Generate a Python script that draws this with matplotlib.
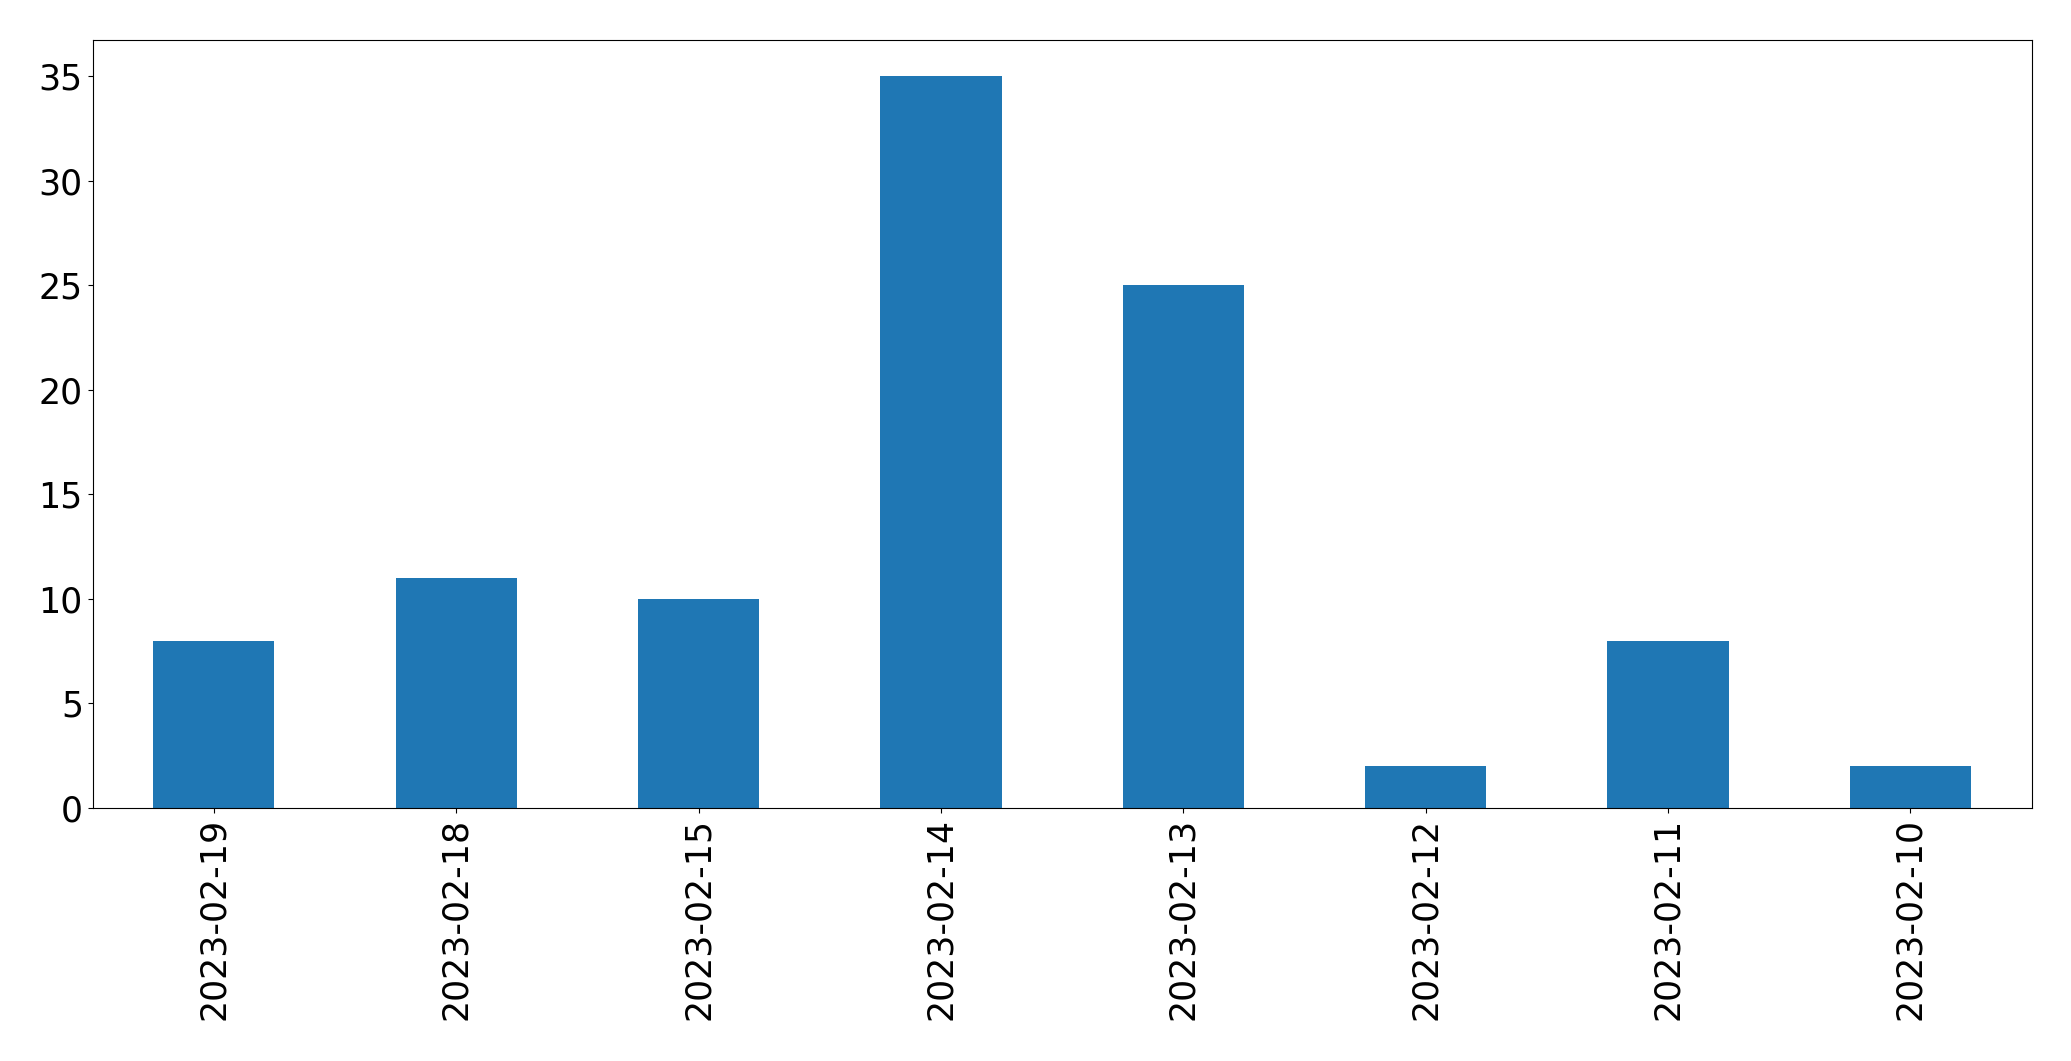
import matplotlib
matplotlib.use("Agg")
import matplotlib.pyplot as plt

dates = ["2023-02-19", "2023-02-18", "2023-02-15", "2023-02-14",
         "2023-02-13", "2023-02-12", "2023-02-11", "2023-02-10"]
counts = [8, 11, 10, 35, 25, 2, 8, 2]

fig = plt.figure(figsize=(20.71, 10.61), dpi=100)
ax = fig.add_axes([0.0447, 0.2385, 0.9363, 0.7242])
x = list(range(len(dates)))
ax.bar(x, counts, width=0.5, color="#1f77b4")
ax.set_xlim(-0.5, len(dates) - 0.5)
ax.set_ylim(0, max(counts) * 1.05)
ax.set_xticks(x)
ax.set_xticklabels(dates, rotation=90)
ax.tick_params(labelsize=25)
fig.savefig("out.png", dpi=100)
